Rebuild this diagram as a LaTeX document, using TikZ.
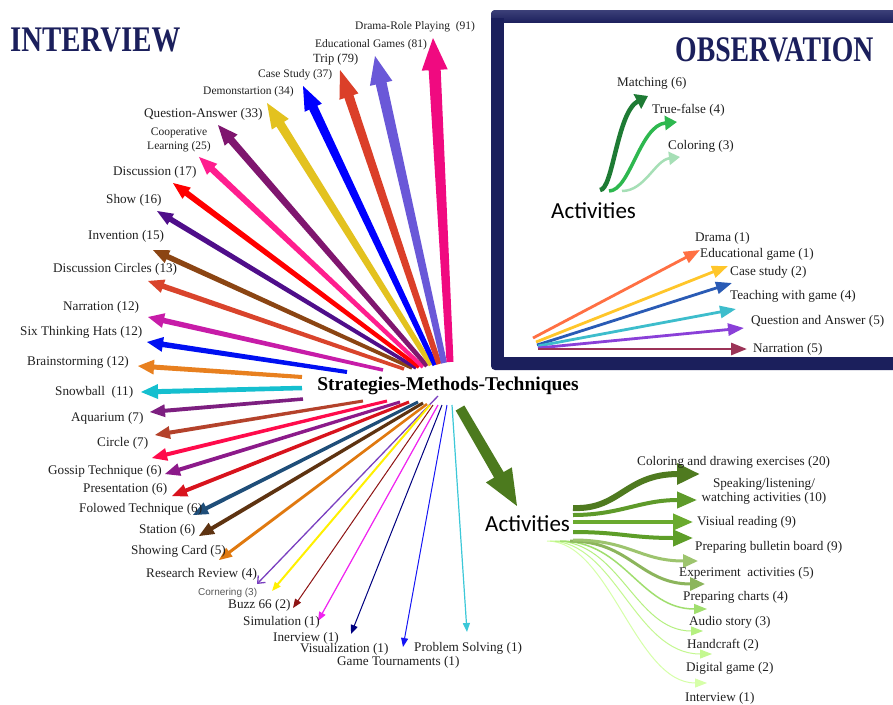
\documentclass[tikz,border=0pt]{standalone}
\usepackage{fontspec}
\setmainfont{Liberation Serif}
\newfontfamily\actfont{Carlito}
\newfontfamily\arialfont{Liberation Sans}
\usetikzlibrary{arrows.meta}

\definecolor{navy}{HTML}{1B1F5C}
\definecolor{navytop}{HTML}{3C4078}
\definecolor{labgrey}{HTML}{202020}

% tapered filled arrow: start, tip, colour (hex), width at start, width at neck, head length, head width
\newcommand\fanarrow[7]{%
  \definecolor{fancol}{HTML}{#3}%
  \path (#1); \pgfgetlastxy{\fax}{\fay}%
  \path (#2); \pgfgetlastxy{\fbx}{\fby}%
  \pgfmathsetmacro\fang{atan2(\fby-\fay,\fbx-\fax)}%
  \pgfmathsetmacro\flen{veclen(\fbx-\fax,\fby-\fay)}%
  \pgfmathsetmacro\fneck{\flen-#6}%
  \pgfmathsetmacro\fwa{#4/2}%
  \pgfmathsetmacro\fwb{#5/2}%
  \pgfmathsetmacro\fwh{#7/2}%
  \fill[fancol, shift={(\fax,\fay)}, rotate=\fang]
    (0pt,-\fwa pt) -- (\fneck pt,-\fwb pt) -- (\fneck pt,-\fwh pt) -- (\flen pt,0pt)
    -- (\fneck pt,\fwh pt) -- (\fneck pt,\fwb pt) -- (0pt,\fwa pt) -- cycle;
}

\begin{document}
\begin{tikzpicture}[x=1pt,y=-1pt,
  lab/.style={anchor=west, inner sep=0pt, text=labgrey, font=\fontsize{13.2}{14}\selectfont},
  labs/.style={lab, font=\fontsize{11.5}{13}\selectfont},
  head/.style={font=\fontsize{36}{36}\selectfont\bfseries, text=navy, inner sep=0pt, anchor=west},
  actlab/.style={font=\actfont\fontsize{23}{24}\selectfont, inner sep=0pt, anchor=west, text=black},
  thinarrow/.style={line width=#1, -{Triangle[length=9pt,width=7pt]}},
  obsarrow/.style={line width=2.8pt, -{Triangle[length=16pt,width=12pt]}}
]
\useasboundingbox (0,0) rectangle (893,704);
\fill[white] (0,0) rectangle (893,704);

% ---------- observation frame ----------
\fill[navy, rounded corners=4pt] (491,10) rectangle (900,370);
\shade[top color=navytop, bottom color=navy, rounded corners=4pt] (491,10) rectangle (900,23);
\fill[navy] (491,18) rectangle (504,30);
\fill[white] (504,23) rectangle (893,357);

% ---------- headings ----------
\node[head] (interview) at (10,40) {\scalebox{0.8}[1]{INTERVIEW}};
\node[head] (observation) at (675,50) {\scalebox{0.77}[1]{OBSERVATION}};

% ---------- central hub ----------
\node[inner sep=0pt, font=\fontsize{19.5}{20}\selectfont\bfseries] (hub) at (448,386) {Strategies-Methods-Techniques};

% ---------- fan end points ----------
\coordinate (s1) at (450,362);  \coordinate (t1) at (433,38);
\coordinate (s2) at (444,363);  \coordinate (t2) at (375,56);
\coordinate (s3) at (439,364);  \coordinate (t3) at (340,70);
\coordinate (s4) at (435,365);  \coordinate (t4) at (303,86);
\coordinate (s5) at (431,365);  \coordinate (t5) at (267,103);
\coordinate (s6) at (427,366);  \coordinate (t6) at (218,125);
\coordinate (s7) at (423,367);  \coordinate (t7) at (199,157);
\coordinate (s8) at (419,367);  \coordinate (t8) at (173,183);
\coordinate (s9) at (416,368);  \coordinate (t9) at (157,211);
\coordinate (s10) at (412,368); \coordinate (t10) at (153,250);
\coordinate (s11) at (404,369); \coordinate (t11) at (148,281);
\coordinate (s12) at (383,370); \coordinate (t12) at (148,317);
\coordinate (s13) at (347,372); \coordinate (t13) at (147,342);
\coordinate (s14) at (302,377); \coordinate (t14) at (138,366);
\coordinate (s15) at (302,388); \coordinate (t15) at (141,392);
\coordinate (s16) at (303,399); \coordinate (t16) at (150,412);
\coordinate (s17) at (363,401); \coordinate (t17) at (155,435);
\coordinate (s18) at (387,401); \coordinate (t18) at (152,458);
\coordinate (s19) at (400,402); \coordinate (t19) at (165,474);
\coordinate (s20) at (409,402); \coordinate (t20) at (172,496);
\coordinate (s21) at (418,402); \coordinate (t21) at (193,515);
\coordinate (s22) at (423,403); \coordinate (t22) at (199,536);
\coordinate (s23) at (427,404); \coordinate (t23) at (219,560);
\coordinate (s24) at (438,396); \coordinate (t24) at (257,584);
\coordinate (s25) at (430,405); \coordinate (t25) at (272,591);
\coordinate (s26) at (433,405); \coordinate (t26) at (293,608);
\coordinate (s27) at (438,405); \coordinate (t27) at (318,621);
\coordinate (s28) at (442,405); \coordinate (t28) at (351,634);
\coordinate (s29) at (447,405); \coordinate (t29) at (403,647);
\coordinate (s30) at (452,405); \coordinate (t30) at (467,632);
\coordinate (sg) at (460,408);  \coordinate (tg) at (517,506);

% ---------- upper fan ----------
\fanarrow{s14}{t14}{E8801F}{4}{5}{16}{15}
\fanarrow{s15}{t15}{15BFCF}{4.5}{5}{17}{15}
\fanarrow{s16}{t16}{7D1F80}{3.5}{4}{15}{13}
\fanarrow{s13}{t13}{0010F2}{4}{5.5}{16}{15}
\fanarrow{s12}{t12}{C71CA8}{3.5}{5.5}{16}{15}
\fanarrow{s11}{t11}{D9442C}{3.5}{5.5}{16}{14}
\fanarrow{s10}{t10}{8B4513}{3.5}{5.5}{16}{14}
\fanarrow{s9}{t9}{4F0E8A}{3.5}{5.5}{16}{13}
\fanarrow{s8}{t8}{FF0000}{4}{6}{17}{14}
\fanarrow{s7}{t7}{FF1E8E}{4}{6.5}{18}{15}
\fanarrow{s6}{t6}{7F166F}{4.5}{7.5}{20}{17}
\fanarrow{s5}{t5}{E3C21F}{5}{9}{25}{20}
\fanarrow{s4}{t4}{0000FF}{5}{9}{24}{19}
\fanarrow{s3}{t3}{DB3F29}{5.5}{9.5}{28}{20}
\fanarrow{s2}{t2}{6A58D8}{6}{11}{28}{23}
\fanarrow{s1}{t1}{F00A80}{7}{12}{32}{26}

% ---------- lower fan ----------
\fanarrow{s17}{t17}{B4422B}{3}{4}{15}{13}
\fanarrow{s18}{t18}{FF0B4B}{3}{4}{15}{13}
\fanarrow{s19}{t19}{8C1A8A}{3}{4}{15}{13}
\fanarrow{s20}{t20}{D8131D}{3}{4}{15}{13}
\fanarrow{s21}{t21}{1F4E79}{3}{4}{15}{13}
\fanarrow{s22}{t22}{5E3311}{3}{4}{15}{13}
\fanarrow{s23}{t23}{E0790F}{2.5}{3}{13}{11}
\draw[color={rgb,255:red,122;green,64;blue,192}, line width=1.3pt, -{Straight Barb[length=6pt,width=10pt]}] (s24) -- (t24);
\draw[color={rgb,255:red,255;green,240;blue,0}, thinarrow=2pt] (s25) -- (t25);
\draw[color={rgb,255:red,142;green,20;blue,20}, thinarrow=1pt] (s26) -- (t26);
\draw[color={rgb,255:red,240;green,34;blue,240}, thinarrow=1.2pt] (s27) -- (t27);
\draw[color={rgb,255:red,0;green,0;blue,128}, thinarrow=1pt] (s28) -- (t28);
\draw[color={rgb,255:red,20;green,20;blue,245}, thinarrow=1pt] (s29) -- (t29);
\draw[color={rgb,255:red,60;green,200;blue,216}, thinarrow=1.2pt] (s30) -- (t30);
\fanarrow{sg}{tg}{4C7A1E}{10}{11}{36}{30}

% ---------- fan labels ----------
\node[labs] (l1) at (355,27) {Drama-Role Playing~~(91)};
\node[labs] (l2) at (315,45) {Educational Games (81)};
\node[lab, font=\fontsize{12.5}{13}\selectfont] (l3) at (313,59) {Trip (79)};
\node[labs] (l4) at (258,75) {Case Study (37)};
\node[labs] (l5) at (203,92) {Demonstartion (34)};
\node[lab] (l6) at (144,114) {Question-Answer (33)};
\node[labs, anchor=center, align=center, font=\fontsize{11.5}{14}\selectfont] (l7) at (179,140) {Cooperative\\Learning (25)};
\node[lab] (l8) at (113,172) {Discussion (17)};
\node[lab] (l9) at (106,200) {Show (16)};
\node[lab] (l10) at (88,236) {Invention (15)};
\node[lab] (l11) at (53,269) {Discussion Circles (13)};
\node[lab] (l12) at (63,307) {Narration (12)};
\node[lab] (l13) at (20,332) {Six Thinking Hats (12)};
\node[lab] (l14) at (27,362) {Brainstorming (12)};
\node[lab] (l15) at (55,392) {Snowball~~(11)};
\node[lab] (l16) at (71,418) {Aquarium (7)};
\node[lab] (l17) at (97,443) {Circle (7)};
\node[lab] (l18) at (48,471) {Gossip Technique (6)};
\node[lab] (l19) at (83,489) {Presentation (6)};
\node[lab] (l20) at (79,509) {Folowed Technique (6)};
\node[lab] (l21) at (139,530) {Station (6)};
\node[lab] (l22) at (131,551) {Showing Card (5)};
\node[lab] (l23) at (146,574) {Research Review (4)};
\node[lab, text=black!65, font=\arialfont\fontsize{10}{11}\selectfont] (l24) at (198,593) {Cornering (3)};
\node[lab] (l25) at (228,605) {Buzz 66 (2)};
\node[lab] (l26) at (243,622) {Simulation (1)};
\node[lab] (l27) at (273,638) {Inerview (1)};
\node[lab] (l28) at (300,649) {Visualization (1)};
\node[lab] (l29) at (337,662) {Game Tournaments (1)};
\node[lab] (l30) at (414,648) {Problem Solving (1)};

% ---------- observation: activities ----------
\node[actlab] (obsact) at (551,211) {Activities};
\coordinate (oc1) at (600,190); \coordinate (od1) at (648,96);
\coordinate (oc2) at (609,191); \coordinate (od2) at (677,122);
\coordinate (oc3) at (622,191); \coordinate (od3) at (680,157);
\draw[color={rgb,255:red,166;green,223;blue,182}, line width=2.5pt, -{Triangle[length=11pt,width=13pt]}]
  (oc3) .. controls (645,191) and (655,160) .. (od3);
\draw[color={rgb,255:red,46;green,184;blue,79}, line width=3.5pt, -{Triangle[length=12pt,width=14pt]}]
  (oc2) .. controls (630,191) and (640,125) .. (od2);
\draw[color={rgb,255:red,30;green,123;blue,52}, line width=4.5pt, -{Triangle[length=12pt,width=16pt]}]
  (oc1) .. controls (613,190) and (617,112) .. (od1);
\node[lab] (om1) at (617,83) {Matching (6)};
\node[lab] (om2) at (652,110) {True-false (4)};
\node[lab] (om3) at (668,146) {Coloring (3)};

% ---------- observation: methods ----------
\coordinate (os1) at (533,338); \coordinate (ot1) at (700,250);
\coordinate (os2) at (536,342); \coordinate (ot2) at (728,266);
\coordinate (os3) at (537,345); \coordinate (ot3) at (732,283);
\coordinate (os4) at (538,346); \coordinate (ot4) at (736,309);
\coordinate (os5) at (538,348); \coordinate (ot5) at (744,328);
\coordinate (os6) at (538,349); \coordinate (ot6) at (747,349);
\draw[color={rgb,255:red,255;green,112;blue,67}, obsarrow] (os1) -- (ot1);
\draw[color={rgb,255:red,255;green,198;blue,42}, obsarrow] (os2) -- (ot2);
\draw[color={rgb,255:red,42;green,91;blue,181}, obsarrow] (os3) -- (ot3);
\draw[color={rgb,255:red,61;green,189;blue,204}, obsarrow] (os4) -- (ot4);
\draw[color={rgb,255:red,138;green,64;blue,216}, obsarrow] (os5) -- (ot5);
\draw[color={rgb,255:red,155;green,51;blue,87}, obsarrow] (os6) -- (ot6);
\node[lab] (on1) at (695,238) {Drama (1)};
\node[lab] (on2) at (700,254) {Educational game (1)};
\node[lab] (on3) at (730,272) {Case study (2)};
\node[lab] (on4) at (730,296) {Teaching with game (4)};
\node[lab] (on5) at (751,321) {Question and Answer (5)};
\node[lab] (on6) at (753,349) {Narration (5)};

% ---------- interview: activities ----------
\node[actlab] (intact) at (485,524) {Activities};
\coordinate (ia1) at (573,508); \coordinate (ib1) at (700,474);
\coordinate (ia2) at (573,515); \coordinate (ib2) at (697,500);
\coordinate (ia3) at (573,522); \coordinate (ib3) at (693,522);
\coordinate (ia4) at (573,532); \coordinate (ib4) at (693,538);
\coordinate (ia5) at (573,540); \coordinate (ib5) at (698,561);
\coordinate (ia6) at (570,541); \coordinate (ib6) at (705,584);
\coordinate (ia7) at (560,541); \coordinate (ib7) at (707,609);
\coordinate (ia8) at (555,541); \coordinate (ib8) at (703,631);
\coordinate (ia9) at (550,541); \coordinate (ib9) at (712,654);
\coordinate (ia10) at (547,541); \coordinate (ib10) at (707,683);
\draw[color={rgb,255:red,214;green,255;blue,168}, line width=1pt, -{Triangle[length=12pt,width=9pt]}]
  (ia10) .. controls (610,541) and (635,683) .. (ib10);
\draw[color={rgb,255:red,196;green,248;blue,144}, line width=1pt, -{Triangle[length=12pt,width=9pt]}]
  (ia9) .. controls (615,541) and (635,654) .. (ib9);
\draw[color={rgb,255:red,181;green,240;blue,128}, line width=1pt, -{Triangle[length=12pt,width=9pt]}]
  (ia8) .. controls (620,541) and (635,631) .. (ib8);
\draw[color={rgb,255:red,160;green,222;blue,110}, line width=1.5pt, -{Triangle[length=13pt,width=10pt]}]
  (ia7) .. controls (625,541) and (640,609) .. (ib7);
\draw[color={rgb,255:red,140;green,181;blue,92}, line width=3pt, -{Triangle[length=15pt,width=13pt]}]
  (ia6) .. controls (630,541) and (640,584) .. (ib6);
\draw[color={rgb,255:red,157;green,196;blue,110}, line width=3pt, -{Triangle[length=15pt,width=13pt]}]
  (ia5) .. controls (630,540) and (640,561) .. (ib5);
\draw[color={rgb,255:red,94;green,158;blue,40}, line width=4pt, -{Triangle[length=20pt,width=16pt]}]
  (ia4) .. controls (620,532) and (630,538) .. (ib4);
\draw[color={rgb,255:red,106;green,170;blue,46}, line width=4pt, -{Triangle[length=20pt,width=16pt]}]
  (ia3) .. controls (620,522) and (640,522) .. (ib3);
\draw[color={rgb,255:red,94;green,154;blue,42}, line width=4pt, -{Triangle[length=20pt,width=16pt]}]
  (ia2) .. controls (620,515) and (640,500) .. (ib2);
\draw[color={rgb,255:red,79;green,122;blue,31}, line width=6pt, -{Triangle[length=23pt,width=20pt]}]
  (ia1) .. controls (620,510) and (625,474) .. (ib1);
\node[lab] (ic1) at (637,462) {Coloring and drawing exercises (20)};
\node[lab, anchor=center, align=center, font=\fontsize{13.2}{14}\selectfont] (ic2) at (764,491) {Speaking/listening/\\watching activities (10)};
\node[lab] (ic3) at (697,522) {Visiual reading (9)};
\node[lab] (ic4) at (695,547) {Preparing bulletin board (9)};
\node[lab] (ic5) at (679,573) {Experiment~~activities (5)};
\node[lab] (ic6) at (683,597) {Preparing charts (4)};
\node[lab] (ic7) at (689,622) {Audio story (3)};
\node[lab] (ic8) at (687,645) {Handcraft (2)};
\node[lab] (ic9) at (686,668) {Digital game (2)};
\node[lab] (ic10) at (685,698) {Interview (1)};
\end{tikzpicture}
\end{document}
